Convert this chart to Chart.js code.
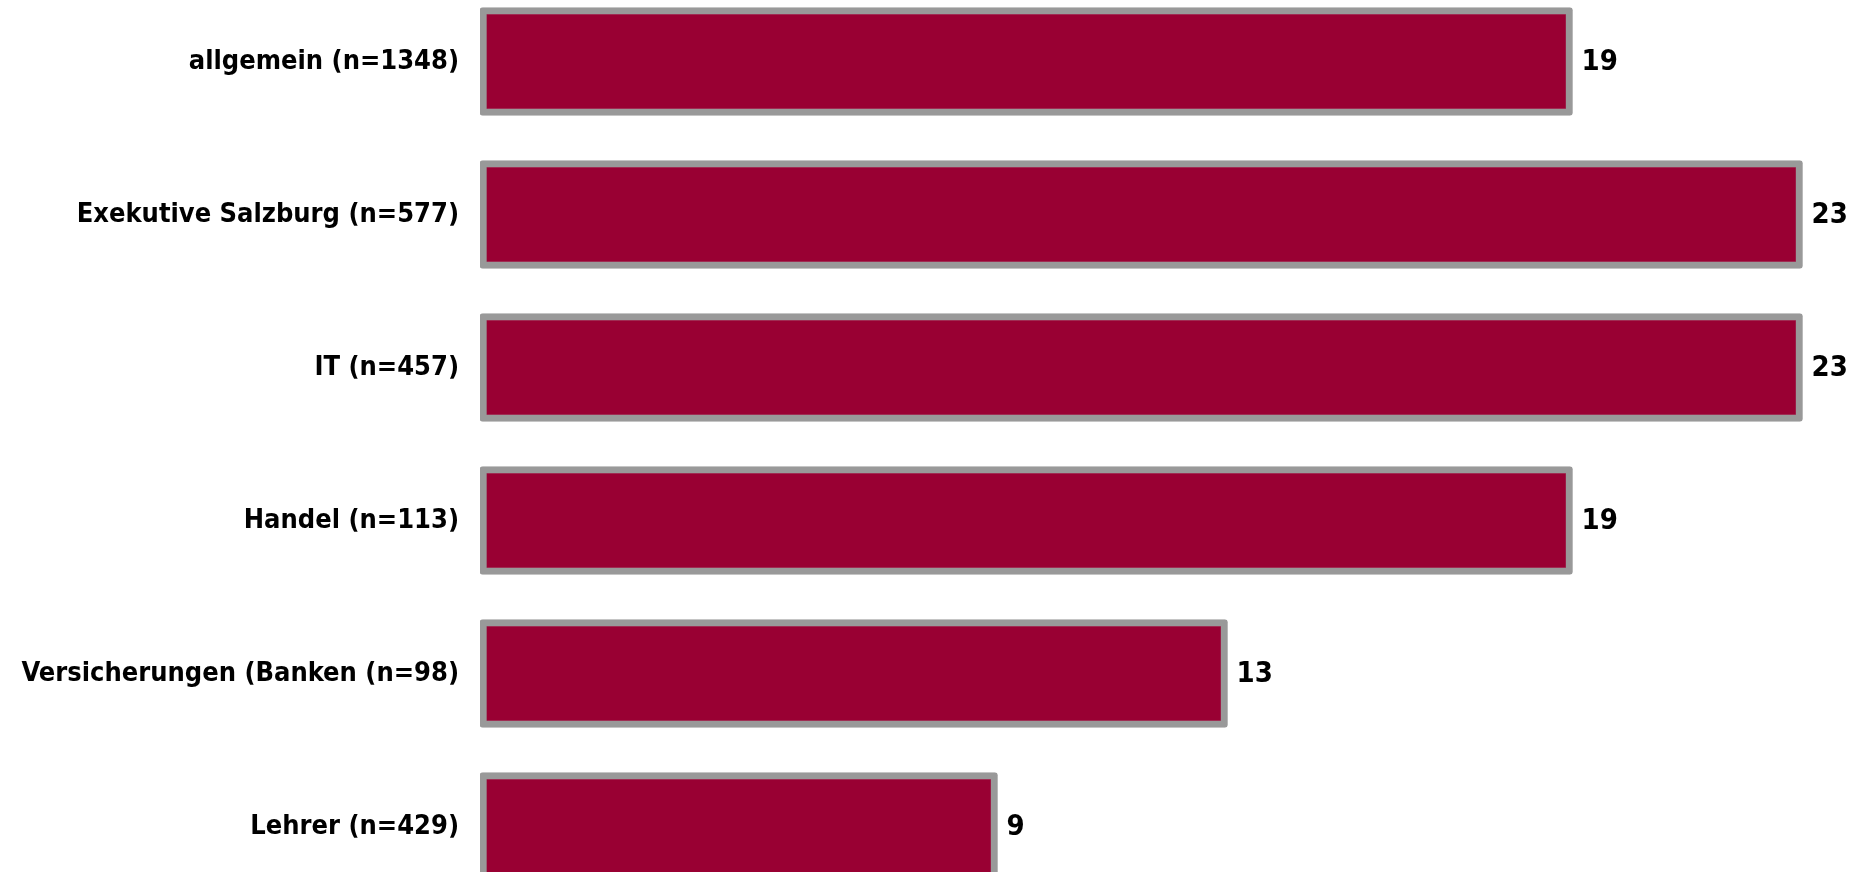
<!DOCTYPE html>
<html lang="de">
<head>
<meta charset="utf-8">
<title>Balkendiagramm</title>
<script src="https://cdn.jsdelivr.net/npm/chart.js@4/dist/chart.umd.min.js"></script>
<style>
  html, body { margin: 0; padding: 0; background: #fff; overflow: hidden; }
  /* das Original ist oben und unten angeschnitten */
  #wrapper { position: absolute; left: 0; top: -15px; width: 1860px; height: 918px; }
</style>
</head>
<body>
<div id="wrapper"><canvas id="myChart"></canvas></div>
<script>
const kategorien = [
  "allgemein (n=1348)",
  "Exekutive Salzburg (n=577)",
  "IT (n=457)",
  "Handel (n=113)",
  "Versicherungen (Banken (n=98)",
  "Lehrer (n=429)"
];
const werte = [19, 23, 23, 19, 13, 9];

const achseMin = 0;
const achseMax = 24;

const schrift = "'DejaVu Sans Condensed', 'DejaVu Sans', sans-serif";

// schreibt die Werte rechts neben die Balken
const wertBeschriftung = {
  id: "wertBeschriftung",
  afterDatasetsDraw(chart) {
    const ctx = chart.ctx;
    const meta = chart.getDatasetMeta(0);
    ctx.save();
    ctx.font = `bold 29px ${schrift}`;
    ctx.fillStyle = "#000";
    ctx.textAlign = "left";
    ctx.textBaseline = "middle";
    meta.data.forEach((bar, i) => {
      ctx.fillText(String(werte[i]), bar.x + 9, bar.y + 1);
    });
    ctx.restore();
  }
};

const ctx = document.getElementById("myChart").getContext("2d");

new Chart(ctx, {
  type: "bar",
  data: {
    labels: kategorien,
    datasets: [{
      data: werte,
      backgroundColor: "rgb(153, 0, 51)",
      borderColor: "rgb(153, 153, 153)",
      borderWidth: 7,
      borderRadius: 3,
      borderSkipped: false,
      barThickness: 108
    }]
  },
  options: {
    indexAxis: "y",
    responsive: true,
    maintainAspectRatio: false,
    animation: false,
    layout: {
      padding: 0
    },
    plugins: {
      legend: { display: false },
      tooltip: { enabled: false }
    },
    scales: {
      x: {
        display: false,
        min: achseMin,
        max: achseMax
      },
      y: {
        grid: { display: false, drawTicks: false },
        border: { display: false },
        ticks: {
          color: "#000",
          padding: 21,
          font: { family: schrift, size: 27, weight: "bold" }
        },
        afterFit(scale) {
          scale.width = 480;
          scale.paddingTop = 0;
          scale.paddingBottom = 0;
        }
      }
    }
  },
  plugins: [wertBeschriftung]
});
</script>
</body>
</html>
